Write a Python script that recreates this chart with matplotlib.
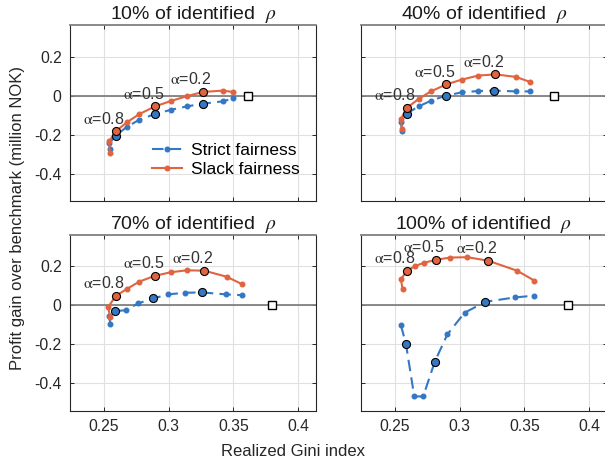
import numpy as np
import matplotlib
matplotlib.use('Agg')
import matplotlib.pyplot as plt

plt.rcParams['font.family'] = ['Liberation Sans', 'DejaVu Sans']
plt.rcParams['mathtext.fontset'] = 'stix'
plt.rcParams['axes.unicode_minus'] = False

blue = '#3478C4'
red = '#E0643F'

titles = ['10% of identified  $\\rho$', '40% of identified  $\\rho$',
          '70% of identified  $\\rho$', '100% of identified  $\\rho$']

# slack fairness (Gini, gain)
slack_x = [
    [0.2546, 0.2539, 0.2590, 0.2675, 0.2773, 0.2894, 0.3018, 0.3139, 0.3263, 0.3418, 0.3500],
    [0.2554, 0.2546, 0.2590, 0.2682, 0.2777, 0.2898, 0.3015, 0.3144, 0.3277, 0.3436, 0.3546],
    [0.2546, 0.2533, 0.2590, 0.2675, 0.2773, 0.2894, 0.3018, 0.3139, 0.3276, 0.3449, 0.3565],
    [0.2559, 0.2546, 0.2590, 0.2656, 0.2726, 0.2815, 0.2923, 0.3059, 0.3221, 0.3444, 0.3579],
]
slack_y = [
    [-0.294, -0.234, -0.183, -0.137, -0.094, -0.055, -0.027, -0.003, 0.019, 0.026, 0.019],
    [-0.171, -0.120, -0.063, -0.017, 0.022, 0.058, 0.082, 0.103, 0.109, 0.096, 0.070],
    [-0.060, -0.009, 0.046, 0.082, 0.120, 0.150, 0.168, 0.178, 0.176, 0.145, 0.108],
    [0.080, 0.132, 0.174, 0.200, 0.217, 0.231, 0.243, 0.245, 0.227, 0.176, 0.125],
]
slack_alpha_idx = [[2, 5, 8], [2, 5, 8], [2, 5, 8], [2, 5, 8]]

# strict fairness (Gini, gain)
strict_x = [
    [0.2546, 0.2540, 0.2590, 0.2675, 0.2773, 0.2894, 0.3018, 0.3139, 0.3263, 0.3418, 0.3500],
    [0.2554, 0.2546, 0.2590, 0.2682, 0.2777, 0.2892, 0.3015, 0.3144, 0.3264, 0.3436, 0.3546],
    [0.2550, 0.2539, 0.2586, 0.2670, 0.2765, 0.2881, 0.2997, 0.3126, 0.3255, 0.3441, 0.3565],
    [0.2546, 0.2585, 0.2649, 0.2718, 0.2808, 0.2905, 0.3038, 0.3200, 0.3425, 0.3572],
]
strict_y = [
    [-0.270, -0.242, -0.205, -0.160, -0.123, -0.094, -0.072, -0.055, -0.041, -0.029, -0.014],
    [-0.180, -0.132, -0.092, -0.055, -0.026, 0.000, 0.017, 0.024, 0.026, 0.022, 0.022],
    [-0.099, -0.056, -0.031, -0.026, 0.009, 0.034, 0.055, 0.063, 0.065, 0.055, 0.051],
    [-0.103, -0.200, -0.467, -0.467, -0.289, -0.150, -0.039, 0.017, 0.039, 0.048],
]
strict_alpha_idx = [[2, 5, 8], [2, 5, 8], [2, 5, 8], [1, 4, 7]]

alpha_labels = ['0.8', '0.5', '0.2']
benchmark_x = [0.3613, 0.3730, 0.3800, 0.3836]

fig = plt.figure(figsize=(6.05, 4.70), dpi=100)
W, H = 605.0, 470.0
lefts = [70, 361, 70, 361]
tops = [25.3, 25.3, 234.7, 234.7]
aw, ah = 246, 176

for k in range(4):
    ax = fig.add_axes([lefts[k] / W, 1 - (tops[k] + ah) / H, aw / W, ah / H])
    ax.set_xlim(0.2237, 0.414)
    ax.set_ylim(-0.54, 0.36)
    ax.set_xticks([0.25, 0.3, 0.35, 0.4])
    ax.set_xticklabels(['0.25', '0.3', '0.35', '0.4'])
    ax.set_yticks([-0.4, -0.2, 0, 0.2])
    ax.set_yticklabels(['-0.4', '-0.2', '0', '0.2'])
    ax.grid(True, color='0.88', lw=0.8)
    ax.set_axisbelow(True)
    ax.tick_params(direction='in', length=3, width=0.7, top=True, right=True,
                   labelsize=11.3, pad=6, colors='0.15')
    for s in ax.spines.values():
        s.set_color('0.15')
        s.set_linewidth(0.8)
    ax.spines['top'].set_color('0.5')
    ax.spines['top'].set_linewidth(1.3)
    if k < 2:
        ax.tick_params(labelbottom=False)
    if k % 2 == 1:
        ax.tick_params(labelleft=False)
    ax.axhline(0, color='0.5', lw=1.3, zorder=1)

    sx, sy = np.array(strict_x[k]), np.array(strict_y[k])
    lx, ly = np.array(slack_x[k]), np.array(slack_y[k])
    ax.plot(sx, sy, ls=(0, (5.5, 3)), color=blue, lw=1.5, marker='o', ms=3.3,
            label='Strict fairness', zorder=3)
    ax.plot(lx, ly, ls='-', color=red, lw=1.5, marker='o', ms=3.3,
            label='Slack fairness', zorder=4)
    si = strict_alpha_idx[k]
    li = slack_alpha_idx[k]
    ax.plot(sx[si], sy[si], ls='none', marker='o', ms=5.8, mfc=blue, mec='k',
            mew=0.8, zorder=5)
    ax.plot(lx[li], ly[li], ls='none', marker='o', ms=5.8, mfc=red, mec='k',
            mew=0.8, zorder=6)
    ax.plot([benchmark_x[k]], [0], ls='none', marker='s', ms=6, mfc='white',
            mec='k', mew=1.0, zorder=6)
    for j, a in enumerate(alpha_labels):
        ax.text(lx[li[j]] - 0.025, ly[li[j]] + 0.065, '$\\mathrm{\\alpha}$=' + a,
                ha='left', va='center', fontsize=11.5, color='0.2', zorder=7)
    ax.set_title(titles[k], fontsize=14, pad=4, color='0.1')
    if k == 0:
        ax.legend(loc='upper left', bbox_to_anchor=(152 / W, 1 - 143 / H),
                  bbox_transform=fig.transFigure, frameon=False, fontsize=12.5,
                  handlelength=1.75, handletextpad=0.5, labelspacing=0.2,
                  borderpad=0, borderaxespad=0)

fig.text(293 / W, 1 - 452 / H, 'Realized Gini index', ha='center', va='center',
         fontsize=12, color='0.15')
fig.text(18 / W, 1 - 218 / H, 'Profit gain over benchmark (million NOK)',
         ha='center', va='center', rotation=90, fontsize=12, color='0.15')

fig.savefig('out.png', dpi=100)
